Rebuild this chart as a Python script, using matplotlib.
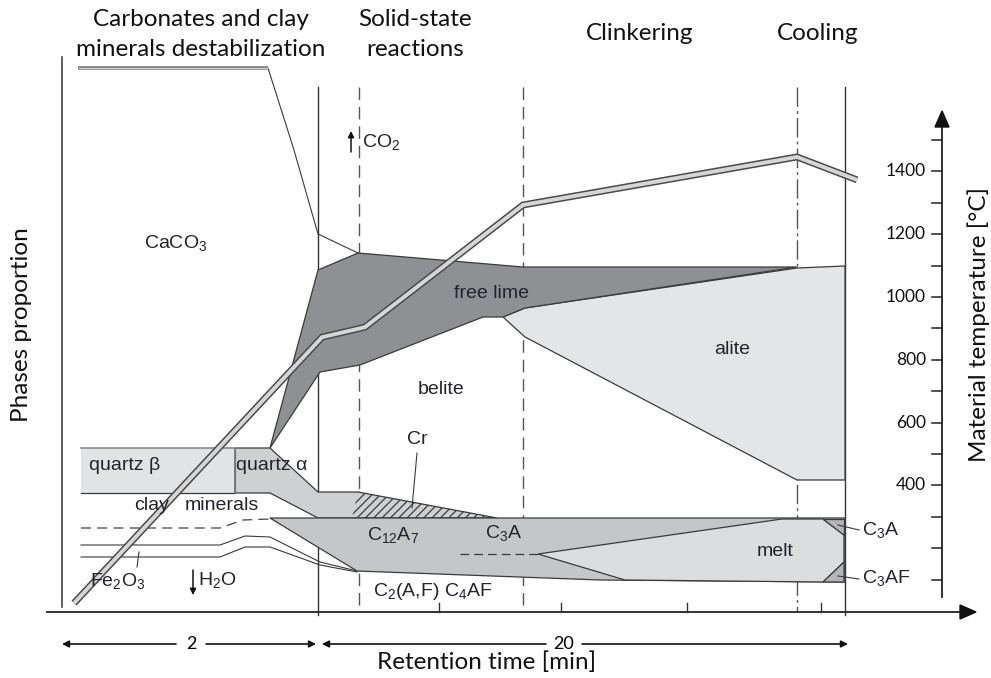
import numpy as np
import matplotlib
matplotlib.use("Agg")
import matplotlib.pyplot as plt
from matplotlib.patches import Polygon

plt.rcParams['mathtext.fontset'] = 'custom'
plt.rcParams['mathtext.rm'] = 'Liberation Sans'
plt.rcParams['mathtext.it'] = 'Liberation Sans:italic'
plt.rcParams['hatch.linewidth'] = 0.9
plt.rcParams['hatch.color'] = '#3a3a3a'

# material temperature along the kiln (x in drawing px, value in degC)
temp_x = [74, 322, 365, 523, 797, 857]
temp_c = [25, 872, 904, 1293, 1446, 1373]

temp_ticks = [100, 200, 300, 400, 500, 600, 700, 800, 900, 1000,
              1100, 1200, 1300, 1400, 1500]
temp_labels = [400, 600, 800, 1000, 1200, 1400]

# phase fields (schematic outlines, drawing px)
free_lime = [(270, 448), (318, 270), (358, 253), (523, 267), (797, 267),
             (525, 308), (503, 317), (483, 317), (360, 365), (320, 372)]
alite = [(503, 317), (525, 308), (797, 268), (845, 266), (845, 480),
         (797, 480), (525, 337)]
quartz_beta = [(81, 448), (235, 448), (235, 493), (81, 493)]
quartz_alpha = [(235, 448), (270, 448), (318, 492), (358, 492),
                (497, 518), (318, 518), (270, 493), (235, 493)]
cr_hatch = [(358, 492), (497, 518), (352, 518)]
c12a7 = [(270, 518), (845, 518), (845, 582), (600, 580), (357, 571)]
melt = [(538, 554), (782, 519), (823, 519), (844, 535), (844, 562),
        (823, 582), (625, 580)]
c3a_corner = [(823, 519), (844, 519), (844, 535)]
c3af_corner = [(823, 582), (844, 562), (844, 582)]

caco3_edge = [(268, 68), (294, 150), (318, 234), (358, 253)]
caco3_top = [(78, 68), (268, 68)]
clay_dash = [(81, 528), (220, 528), (243, 520), (270, 519)]
clay_line1 = [(81, 545), (220, 545), (245, 536), (270, 537), (320, 562), (357, 571)]
clay_line2 = [(81, 557), (220, 557), (245, 547), (270, 547), (320, 565), (357, 572)]
c3a_dash = [(460, 554), (538, 554)]

solid_x = [318, 845]
dashed_x = [359, 523]
dashdot_x = [797]
axis_ticks_x = [439, 561, 687, 821]

c_free = '#8f9094'
c_alite = '#e4e5e7'
c_qb = '#e2e3e5'
c_qa = '#cfd0d2'
c_band = '#c5c6c8'
c_melt = '#dcdddf'
c_corner = '#b4b5b8'
edge = '#3a3a3a'
txt = '#23232e'


def t2y(t):
    return 611 - np.asarray(t) * 62.8 / 200


fig = plt.figure(figsize=(9.91, 6.78), dpi=100)
ax = fig.add_axes([0, 0, 1, 1])
ax.set_xlim(0, 991)
ax.set_ylim(678, 0)
ax.axis('off')


def poly(pts, fc, lw=0.9, ec=edge, z=2, hatch=None):
    p = Polygon(pts, closed=True, facecolor=fc, edgecolor=ec, lw=lw,
                zorder=z, hatch=hatch)
    ax.add_patch(p)


def path(pts, **kw):
    xs, ys = zip(*pts)
    ax.plot(xs, ys, **kw)


poly(quartz_beta, c_qb, lw=0)
ax.plot([81, 235], [448, 448], color='#8a8a8a', lw=1.2, zorder=3)
ax.plot([81, 235], [493, 493], color=edge, lw=0.9, zorder=3)
ax.plot([235, 235], [448, 493], color='#777777', lw=0.9, zorder=3)
poly(quartz_alpha, c_qa)
poly(cr_hatch, 'none', lw=0, hatch='////', z=3)
poly(c12a7, c_band)
poly(melt, c_melt)
poly(c3a_corner, c_corner)
poly(c3af_corner, c_corner)
poly(alite, c_alite)
poly(free_lime, c_free)

path(caco3_edge, color=edge, lw=0.8, zorder=3)
path(caco3_top, color='#777777', lw=2.6, solid_capstyle='butt', zorder=3)
path(caco3_top, color='#cfcfcf', lw=1.0, solid_capstyle='butt', zorder=3)
path(clay_dash, color='#444444', lw=0.9, dashes=(8, 5), zorder=3)
path(clay_line1, color=edge, lw=0.8, zorder=3)
path(clay_line2, color=edge, lw=0.8, zorder=3)
path(c3a_dash, color=edge, lw=0.9, dashes=(7, 4), zorder=3)

# phase boundaries / frame lines
ax.plot([62, 62], [57, 607], color='#333333', lw=1.1, zorder=1)
for x in solid_x:
    ax.plot([x, x], [87, 615], color='#333333', lw=1.0, zorder=1)
for x in dashed_x:
    ax.plot([x, x], [87, 612], color='#555555', lw=1.0, dashes=(9, 5), zorder=1)
for x in dashdot_x:
    ax.plot([x, x], [87, 612], color='#555555', lw=1.0,
            dashes=(14, 3, 2, 3), zorder=1)

# temperature profile drawn as a hollow band
ty = t2y(temp_c)
ax.plot(temp_x, ty, color='#4a4a4a', lw=5.0, solid_capstyle='butt',
        solid_joinstyle='miter', zorder=5)
ax.plot(temp_x, ty, color='#d6d6d6', lw=2.8, solid_capstyle='butt',
        solid_joinstyle='miter', zorder=6)

# axes
ax.plot([47, 962], [612, 612], color='#222222', lw=1.3, zorder=4)
ax.add_patch(Polygon([(960, 605), (976, 612), (960, 619)], closed=True,
                     color='#111111', zorder=4))
ax.plot([942, 942], [597, 125], color='#222222', lw=1.3, zorder=4)
ax.add_patch(Polygon([(935, 127), (942, 111), (949, 127)], closed=True,
                     color='#111111', zorder=4))
for t in temp_ticks:
    ax.plot([932, 942], [t2y(t), t2y(t)], color='#222222', lw=1.1, zorder=4)
for t in temp_labels:
    ax.text(926, t2y(t), str(t), ha='right', va='center', fontsize=12.5,
            family='Lato', color='#111111')
for x in axis_ticks_x:
    ax.plot([x, x], [603, 612], color='#333333', lw=1.0, zorder=4)

# retention time spans
arr = dict(arrowstyle='-|>', color='#111111', lw=1.2, mutation_scale=10,
           shrinkA=0, shrinkB=0)
ax.annotate('', xy=(62, 644), xytext=(176, 644), arrowprops=arr)
ax.annotate('', xy=(316, 644), xytext=(206, 644), arrowprops=arr)
ax.annotate('', xy=(322, 644), xytext=(546, 644), arrowprops=arr)
ax.annotate('', xy=(848, 644), xytext=(582, 644), arrowprops=arr)
ax.text(191, 644, '2', ha='center', va='center', fontsize=13, family='Lato')
ax.text(564, 644, '20', ha='center', va='center', fontsize=13, family='Lato')

# axis titles and stage headers
hdr = dict(ha='center', va='center', fontsize=17.5, family='Lato', color='#111111')
ax.text(487, 662, 'Retention time [min]', **hdr)
ax.text(22, 325, 'Phases proportion', rotation=90, **hdr)
ax.text(979, 325, 'Material temperature [°C]', rotation=90, **hdr)
ax.text(201, 20, 'Carbonates and clay', **hdr)
ax.text(201, 49, 'minerals destabilization', **hdr)
ax.text(415, 20, 'Solid-state', **hdr)
ax.text(415, 49, 'reactions', **hdr)
ax.text(640, 34, 'Clinkering', **hdr)
ax.text(818, 34, 'Cooling', **hdr)

# phase labels
lab = dict(ha='center', va='center', fontsize=14, family='Liberation Sans',
           color=txt, zorder=8)
ax.text(176, 243, 'CaCO$_3$', **lab)
ax.text(492, 293, 'free lime', **lab)
ax.text(732, 350, 'alite', **lab)
ax.text(441, 390, 'belite', **lab)
ax.text(417, 440, 'Cr', **lab)
ax.text(125, 465, 'quartz β', **lab)
ax.text(272, 465, 'quartz α', **lab)
ax.text(152, 505, 'clay', **lab)
ax.text(222, 505, 'minerals', **lab)
ax.text(393, 535, 'C$_{12}$A$_7$', **lab)
ax.text(504, 533, 'C$_3$A', **lab)
ax.text(775, 551, 'melt', **lab)
ax.text(118, 581, 'Fe$_2$O$_3$', **lab)
lab_l = dict(lab, ha='left')
ax.text(198, 580, 'H$_2$O', **lab_l)
ax.text(362, 142, 'CO$_2$', **lab_l)
ax.text(373, 591, 'C$_2$(A,F) C$_4$AF', **lab_l)
ax.text(862, 530, 'C$_3$A', **lab_l)
ax.text(862, 578, 'C$_3$AF', **lab_l)

# pointers and small gas arrows
ax.plot([417, 412], [453, 508], color=edge, lw=0.8, zorder=7)
ax.plot([139, 137], [552, 567], color=edge, lw=0.8, zorder=7)
ax.plot([859, 838], [530, 525], color=edge, lw=0.8, zorder=7)
ax.plot([859, 838], [579, 576], color=edge, lw=0.8, zorder=7)
small = dict(arrowstyle='-|>', color='#111111', lw=1.1, mutation_scale=9,
             shrinkA=0, shrinkB=0)
ax.annotate('', xy=(351, 131), xytext=(351, 152), arrowprops=small)
ax.annotate('', xy=(193, 595), xytext=(193, 570), arrowprops=small)

fig.savefig('out.png', dpi=100)
